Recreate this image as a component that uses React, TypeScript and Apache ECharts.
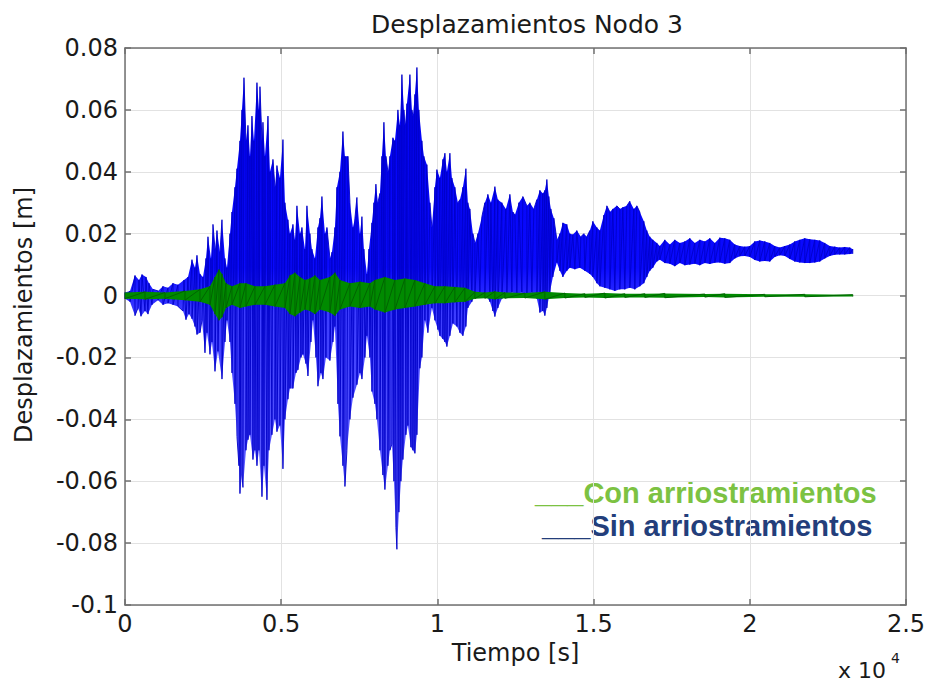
import React, { useEffect, useRef } from "react";
import * as echarts from "echarts";

const X_MIN = 0;
const X_MAX = 25000;
const X_STEP = 5000;
const Y_MIN = -0.1;
const Y_MAX = 0.08;
const Y_STEP = 0.02;

const TITLE = "Desplazamientos Nodo 3";
const X_NAME = "Tiempo [s]";
const Y_NAME = "Desplazamientos [m]";
const SERIES_NAMES = ["Con arriostramientos", "Sin arriostramientos"];

// "Sin arriostramientos" – upper envelope of the displacement trace [t (s), m]
const blueUpper: number[][] = [
  [0, 0.001], [160, 0.0015], [320, 0.0065], [448, 0.005], [544, 0.0068], [672, 0.006], [768, 0.004],
  [896, 0.002], [1056, 0.0015], [1216, 0.003], [1376, 0.0025], [1536, 0.004], [1696, 0.0035],
  [1888, 0.005], [2016, 0.006], [2144, 0.0116], [2240, 0.009], [2304, 0.013], [2400, 0.007],
  [2496, 0.006], [2592, 0.012], [2656, 0.019], [2752, 0.012], [2816, 0.023], [2880, 0.015],
  [2944, 0.021], [3040, 0.014], [3104, 0.0245], [3200, 0.012], [3264, 0.009], [3360, 0.02],
  [3424, 0.027], [3520, 0.035], [3584, 0.041], [3680, 0.05], [3744, 0.06], [3808, 0.0704],
  [3872, 0.05], [3936, 0.055], [4000, 0.045], [4064, 0.058], [4128, 0.05], [4224, 0.0688],
  [4288, 0.06], [4320, 0.0675], [4384, 0.05], [4416, 0.056], [4480, 0.045], [4576, 0.058],
  [4640, 0.04], [4736, 0.044], [4800, 0.035], [4864, 0.042], [4960, 0.038], [5056, 0.0504],
  [5120, 0.03], [5216, 0.0245], [5280, 0.02], [5376, 0.023], [5440, 0.018], [5504, 0.029],
  [5600, 0.02], [5664, 0.022], [5760, 0.015], [5824, 0.029], [5920, 0.02], [5984, 0.015],
  [6080, 0.012], [6176, 0.022], [6240, 0.025], [6304, 0.032], [6400, 0.02], [6464, 0.022],
  [6560, 0.012], [6624, 0.014], [6720, 0.022], [6784, 0.035], [6880, 0.04], [6976, 0.053],
  [7040, 0.045], [7136, 0.045], [7200, 0.03], [7296, 0.022], [7360, 0.025], [7424, 0.0317],
  [7520, 0.02], [7584, 0.0255], [7648, 0.015], [7744, 0.007], [7808, 0.015], [7904, 0.0235],
  [7968, 0.03], [8032, 0.036], [8096, 0.03], [8160, 0.033], [8224, 0.045], [8288, 0.056],
  [8352, 0.045], [8416, 0.04], [8480, 0.045], [8576, 0.051], [8640, 0.05], [8736, 0.06],
  [8800, 0.055], [8864, 0.0714], [8928, 0.06], [8960, 0.055], [9024, 0.062], [9120, 0.0714],
  [9184, 0.06], [9216, 0.058], [9280, 0.065], [9344, 0.0737], [9408, 0.06], [9504, 0.05],
  [9568, 0.045], [9664, 0.0423], [9760, 0.03], [9824, 0.022], [9920, 0.035], [9984, 0.0407],
  [10080, 0.038], [10176, 0.044], [10240, 0.046], [10304, 0.04], [10400, 0.046], [10464, 0.038],
  [10560, 0.035], [10656, 0.03], [10720, 0.031], [10816, 0.035], [10912, 0.041], [10976, 0.03],
  [11040, 0.028], [11136, 0.02], [11200, 0.017], [11296, 0.02], [11424, 0.0255], [11520, 0.03],
  [11616, 0.0327], [11712, 0.03], [11840, 0.0352], [11936, 0.031], [12064, 0.03], [12192, 0.028],
  [12320, 0.0327], [12416, 0.027], [12480, 0.026], [12608, 0.03], [12736, 0.032], [12864, 0.029],
  [12960, 0.03], [13088, 0.028], [13184, 0.031], [13280, 0.034], [13376, 0.033], [13440, 0.034],
  [13504, 0.0375], [13568, 0.032], [13632, 0.028], [13728, 0.025], [13824, 0.018], [13920, 0.02],
  [14016, 0.0235], [14144, 0.023], [14240, 0.02], [14336, 0.0197], [14464, 0.021], [14592, 0.019],
  [14688, 0.02], [14784, 0.019], [14880, 0.021], [14976, 0.024], [15104, 0.022], [15200, 0.021],
  [15328, 0.026], [15424, 0.029], [15520, 0.027], [15616, 0.028], [15744, 0.029], [15840, 0.028],
  [15936, 0.0285], [16064, 0.029], [16160, 0.0305], [16288, 0.028], [16384, 0.029], [16480, 0.027],
  [16608, 0.024], [16704, 0.021], [16800, 0.019], [16896, 0.018], [17024, 0.017], [17120, 0.016],
  [17280, 0.018], [17440, 0.0165], [17600, 0.018], [17760, 0.017], [17920, 0.0175], [18080, 0.0185],
  [18240, 0.017], [18400, 0.018], [18560, 0.0175], [18720, 0.0185], [18880, 0.017], [19040, 0.0187],
  [19200, 0.0185], [19360, 0.018], [19520, 0.0165], [19680, 0.016], [19840, 0.0158], [20000, 0.016],
  [20160, 0.0175], [20320, 0.0178], [20480, 0.0175], [20640, 0.017], [20800, 0.016], [20960, 0.0155],
  [21120, 0.016], [21280, 0.0165], [21440, 0.0175], [21600, 0.018], [21760, 0.0185], [21920, 0.0182],
  [22080, 0.018], [22240, 0.0178], [22400, 0.017], [22560, 0.016], [22720, 0.0158], [22880, 0.0155],
  [23040, 0.0157], [23200, 0.0155], [23296, 0.015],
];

// "Sin arriostramientos" – lower envelope
const blueLower: number[][] = [
  [0, -0.001], [160, -0.002], [320, -0.0065], [416, -0.004], [512, -0.0067], [640, -0.005],
  [736, -0.006], [864, -0.003], [1056, -0.0015], [1216, -0.003], [1376, -0.0025], [1536, -0.003],
  [1696, -0.0035], [1856, -0.005], [1952, -0.0078], [2048, -0.006], [2144, -0.0075], [2240, -0.01],
  [2304, -0.0126], [2400, -0.012], [2464, -0.008], [2560, -0.0185], [2624, -0.012], [2720, -0.019],
  [2784, -0.015], [2880, -0.0245], [2976, -0.018], [3104, -0.027], [3200, -0.015], [3264, -0.008],
  [3360, -0.015], [3424, -0.025], [3520, -0.035], [3584, -0.0455], [3648, -0.055], [3680, -0.064],
  [3744, -0.058], [3776, -0.062], [3872, -0.05], [3936, -0.0466], [4000, -0.045], [4096, -0.053],
  [4160, -0.05], [4224, -0.055], [4288, -0.05], [4384, -0.065], [4448, -0.055], [4544, -0.066],
  [4608, -0.05], [4704, -0.045], [4800, -0.04], [4864, -0.044], [4960, -0.042], [5056, -0.056],
  [5120, -0.04], [5216, -0.0335], [5280, -0.03], [5376, -0.03], [5472, -0.025], [5536, -0.024],
  [5632, -0.02], [5696, -0.019], [5792, -0.022], [5856, -0.026], [5952, -0.015], [6016, -0.008],
  [6112, -0.02], [6176, -0.0293], [6272, -0.025], [6336, -0.027], [6432, -0.02], [6560, -0.021],
  [6656, -0.015], [6720, -0.01], [6816, -0.035], [6880, -0.0455], [6976, -0.055], [7040, -0.0617],
  [7104, -0.05], [7200, -0.04], [7296, -0.033], [7424, -0.0288], [7520, -0.025], [7584, -0.027],
  [7680, -0.02], [7744, -0.013], [7840, -0.02], [7904, -0.031], [8000, -0.035], [8064, -0.04],
  [8160, -0.05], [8256, -0.058], [8320, -0.0627], [8416, -0.055], [8480, -0.05], [8544, -0.048],
  [8608, -0.06], [8672, -0.075], [8704, -0.082], [8768, -0.07], [8832, -0.06], [8896, -0.053],
  [8992, -0.045], [9056, -0.042], [9152, -0.049], [9216, -0.05], [9280, -0.051], [9344, -0.045],
  [9440, -0.0235], [9504, -0.02], [9600, -0.008], [9696, -0.012], [9824, -0.004], [9920, -0.008],
  [10016, -0.011], [10080, -0.013], [10176, -0.014], [10240, -0.015], [10304, -0.0165],
  [10400, -0.013], [10496, -0.009], [10624, -0.01], [10720, -0.012], [10816, -0.013], [10912, -0.01],
  [10976, -0.004], [11104, -0.002], [11200, 0], [11360, 0.001], [11520, 0.0005], [11680, -0.002],
  [11776, -0.005], [11840, -0.0068], [11936, -0.004], [12064, -0.001], [12224, 0], [12384, 0.001],
  [12544, 0.0005], [12704, 0.001], [12864, 0], [13024, 0.001], [13184, -0.001], [13280, -0.0055],
  [13376, -0.005], [13440, -0.0065], [13504, -0.004], [13600, 0.001], [13696, 0.006], [13824, 0.0107],
  [13920, 0.008], [14016, 0.006], [14144, 0.008], [14240, 0.009], [14400, 0.0085], [14560, 0.009],
  [14720, 0.008], [14880, 0.007], [14976, 0.006], [15104, 0.004], [15200, 0.003], [15360, 0.0025],
  [15520, 0.002], [15680, 0.0015], [15840, 0.002], [16000, 0.002], [16160, 0.0025], [16320, 0.002],
  [16480, 0.003], [16608, 0.004], [16704, 0.006], [16800, 0.008], [16896, 0.009], [17024, 0.011],
  [17120, 0.0116], [17280, 0.0105], [17440, 0.0103], [17600, 0.0095], [17760, 0.0105], [17920, 0.0098],
  [18080, 0.01], [18240, 0.0103], [18400, 0.0098], [18560, 0.0105], [18720, 0.0102], [18880, 0.0106],
  [19040, 0.0107], [19200, 0.0103], [19360, 0.0105], [19520, 0.012], [19680, 0.0127], [19840, 0.0128],
  [20000, 0.0125], [20160, 0.0115], [20320, 0.011], [20480, 0.0112], [20640, 0.011], [20800, 0.0125],
  [20960, 0.013], [21120, 0.0128], [21280, 0.0118], [21440, 0.011], [21600, 0.0107], [21760, 0.0105],
  [21920, 0.0105], [22080, 0.0107], [22240, 0.011], [22400, 0.012], [22560, 0.0128], [22720, 0.0132],
  [22880, 0.0133], [23040, 0.0133], [23200, 0.0134], [23296, 0.0135],
];

// "Con arriostramientos" – upper envelope
const greenUpper: number[][] = [
  [0, 0.001], [640, 0.0012], [1280, 0.001], [1920, 0.0015], [2400, 0.002], [2720, 0.003],
  [2880, 0.006], [3008, 0.0084], [3104, 0.007], [3232, 0.004], [3424, 0.003], [3680, 0.004],
  [3872, 0.004], [4160, 0.003], [4480, 0.003], [4800, 0.0035], [5120, 0.004], [5280, 0.0065],
  [5440, 0.0074], [5600, 0.006], [5760, 0.005], [5920, 0.0055], [6080, 0.0065], [6240, 0.005],
  [6560, 0.006], [6720, 0.0074], [6880, 0.005], [7200, 0.004], [7520, 0.0045], [7840, 0.004],
  [8000, 0.005], [8320, 0.006], [8640, 0.005], [8960, 0.0055], [9280, 0.005], [9600, 0.004],
  [9920, 0.003], [10240, 0.003], [10560, 0.0028], [10880, 0.0025], [11200, 0.0012], [11520, 0.001],
  [11840, 0.0013], [12160, 0.001], [12800, 0.0008], [13440, 0.0012], [14080, 0.0008], [14720, 0.0006],
  [15360, 0.0008], [16000, 0.0006], [16640, 0.0006], [17280, 0.0007], [18560, 0.0005], [19200, 0.0006],
  [20480, 0.0004], [21760, 0.0004], [23296, 0.0003],
];

// "Con arriostramientos" – lower envelope
const greenLower: number[][] = [
  [0, -0.001], [640, -0.0012], [1280, -0.001], [1920, -0.0015], [2400, -0.002], [2720, -0.003],
  [2880, -0.006], [3008, -0.008], [3104, -0.007], [3232, -0.004], [3424, -0.003], [3680, -0.004],
  [3872, -0.0035], [4160, -0.003], [4480, -0.003], [4800, -0.0035], [5120, -0.004], [5280, -0.006],
  [5440, -0.0067], [5600, -0.0055], [5760, -0.0045], [5920, -0.005], [6080, -0.006], [6240, -0.0045],
  [6560, -0.0055], [6720, -0.0065], [6880, -0.0045], [7200, -0.0035], [7520, -0.004], [7840, -0.0035],
  [8000, -0.0045], [8320, -0.0055], [8640, -0.0045], [8960, -0.004], [9280, -0.0035], [9600, -0.003],
  [9920, -0.0025], [10240, -0.0025], [10560, -0.0022], [10880, -0.002], [11200, -0.001], [11520, -0.0009],
  [11840, -0.0012], [12160, -0.0009], [12800, -0.0008], [13440, -0.0012], [14080, -0.0008],
  [14720, -0.0006], [15360, -0.0008], [16000, -0.0006], [16640, -0.0006], [17280, -0.0007],
  [18560, -0.0005], [19200, -0.0006], [20480, -0.0004], [21760, -0.0004], [23296, -0.0003],
];

const FONT = "DejaVu Sans";

function bandSeries(name: string, upper: number[][], lower: number[][], fill: (api: any) => any, z: number) {
  return {
    type: "custom",
    name,
    silent: true,
    clip: true,
    z,
    data: [[upper[0][0], upper[0][1]]],
    encode: { x: 0, y: 1 },
    renderItem: (_p: any, api: any) => {
      const pts: number[][] = [];
      for (const p of upper) pts.push(api.coord(p));
      for (let i = lower.length - 1; i >= 0; i--) pts.push(api.coord(lower[i]));
      return {
        type: "polygon",
        shape: { points: pts },
        style: { fill: fill(api), stroke: "none" },
      };
    },
  };
}

function zigzag(upper: number[][], lower: number[][]) {
  return [...upper, ...lower].sort((a, b) => a[0] - b[0]);
}

export default function App() {
  const ref = useRef<HTMLDivElement>(null);

  useEffect(() => {
    if (!ref.current) return;
    const chart = echarts.init(ref.current, null, { renderer: "svg" });

    const blueFill = (api: any) => {
      const yTop = api.coord([X_MIN, Y_MAX])[1];
      const yBot = api.coord([X_MIN, Y_MIN])[1];
      const y0 = api.coord([X_MIN, 0])[1];
      const f = (y0 - yTop) / (yBot - yTop);
      return new echarts.graphic.LinearGradient(
        0, yTop, 0, yBot,
        [
          { offset: 0, color: "#0000f4" },
          { offset: f - 0.05, color: "#0a0aff" },
          { offset: f + 0.03, color: "#3c3cff" },
          { offset: 1, color: "#7474ff" },
        ],
        true
      );
    };

    const axisLineStyle = { color: "#707070", width: 1.5 };
    const labelStyle = { fontFamily: FONT, fontSize: 24, color: "#1a1a1a" };

    chart.setOption({
      animation: false,
      backgroundColor: "#ffffff",
      title: {
        text: TITLE,
        left: 522,
        top: 7,
        textAlign: "center",
        textStyle: { fontFamily: FONT, fontSize: 25, fontWeight: "normal", color: "#1a1a1a" },
      },
      grid: { left: 125, top: 48, width: 781, height: 557, containLabel: false },
      xAxis: [
        {
          type: "value",
          min: X_MIN,
          max: X_MAX,
          interval: X_STEP,
          position: "bottom",
          name: X_NAME,
          nameLocation: "middle",
          nameGap: 25,
          nameTextStyle: { fontFamily: FONT, fontSize: 24, color: "#1a1a1a" },
          axisLine: { show: true, onZero: false, lineStyle: axisLineStyle },
          axisTick: { show: true, inside: true, length: 6, lineStyle: axisLineStyle },
          axisLabel: {
            ...labelStyle,
            margin: 7,
            formatter: (v: number) => String(parseFloat((v / 10000).toFixed(2))),
          },
          splitLine: { show: true, lineStyle: { color: "#e2e2e2", width: 1 } },
        },
        {
          type: "value",
          min: X_MIN,
          max: X_MAX,
          interval: X_STEP,
          position: "top",
          axisLine: { show: true, onZero: false, lineStyle: axisLineStyle },
          axisTick: { show: true, inside: true, length: 6, lineStyle: axisLineStyle },
          axisLabel: { show: false },
          splitLine: { show: false },
        },
      ],
      yAxis: [
        {
          type: "value",
          min: Y_MIN,
          max: Y_MAX,
          interval: Y_STEP,
          position: "left",
          axisLine: { show: true, onZero: false, lineStyle: axisLineStyle },
          axisTick: { show: true, inside: true, length: 6, lineStyle: axisLineStyle },
          axisLabel: {
            ...labelStyle,
            margin: 7,
            formatter: (v: number) => String(parseFloat(v.toFixed(2))),
          },
          splitLine: { show: true, lineStyle: { color: "#e2e2e2", width: 1 } },
        },
        {
          type: "value",
          min: Y_MIN,
          max: Y_MAX,
          interval: Y_STEP,
          position: "right",
          axisLine: { show: true, onZero: false, lineStyle: axisLineStyle },
          axisTick: { show: true, inside: true, length: 6, lineStyle: axisLineStyle },
          axisLabel: { show: false },
          splitLine: { show: false },
        },
      ],
      series: [
        bandSeries(SERIES_NAMES[1], blueUpper, blueLower, blueFill, 1),
        {
          type: "line",
          name: SERIES_NAMES[1],
          data: zigzag(blueUpper, blueLower),
          showSymbol: false,
          silent: true,
          z: 2,
          lineStyle: { color: "#0000c8", width: 0.9 },
        },
        bandSeries(SERIES_NAMES[0], greenUpper, greenLower, () => "#008a00", 3),
        {
          type: "line",
          name: SERIES_NAMES[0],
          data: zigzag(greenUpper, greenLower),
          showSymbol: false,
          silent: true,
          z: 4,
          lineStyle: { color: "#006400", width: 1 },
        },
      ],
      graphic: [
        {
          type: "text",
          x: 24,
          y: 315,
          rotation: Math.PI / 2,
          style: {
            text: Y_NAME,
            fontFamily: FONT,
            fontSize: 24,
            fill: "#1a1a1a",
            align: "center",
            verticalAlign: "middle",
          },
        },
        {
          type: "text",
          x: 838,
          y: 659,
          style: { text: "x 10", fontFamily: FONT, fontSize: 22, fill: "#1a1a1a", align: "left", verticalAlign: "top" },
        },
        {
          type: "text",
          x: 891,
          y: 651,
          style: { text: "4", fontFamily: FONT, fontSize: 14, fill: "#1a1a1a", align: "left", verticalAlign: "top" },
        },
        {
          type: "text",
          x: 535,
          y: 493,
          style: {
            text: "___" + SERIES_NAMES[0],
            fontFamily: "Liberation Sans",
            fontWeight: "bold",
            fontSize: 29,
            fill: "#7cc242",
            align: "left",
            verticalAlign: "middle",
          },
        },
        {
          type: "text",
          x: 542,
          y: 526,
          style: {
            text: "___" + SERIES_NAMES[1],
            fontFamily: "Liberation Sans",
            fontWeight: "bold",
            fontSize: 29,
            fill: "#233e7b",
            align: "left",
            verticalAlign: "middle",
          },
        },
      ],
    });

    return () => chart.dispose();
  }, []);

  return (
    <div
      ref={ref}
      style={{ position: "fixed", left: 0, top: 0, width: 930, height: 681, background: "#fff" }}
    />
  );
}
